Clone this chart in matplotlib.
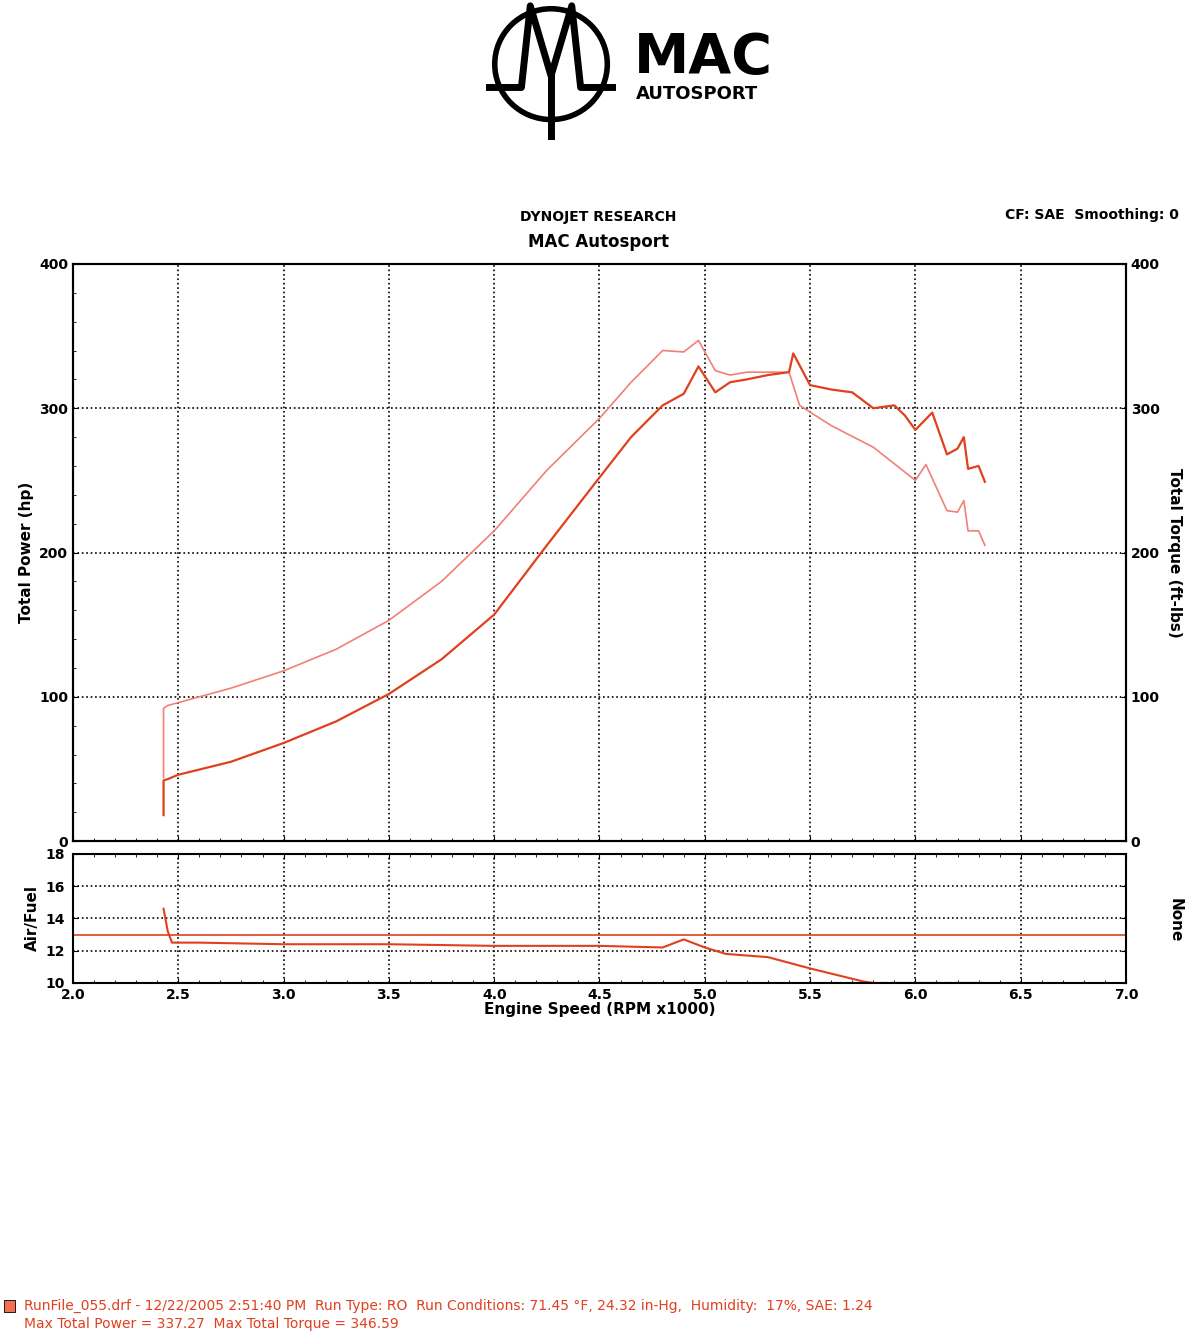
import matplotlib
matplotlib.use("Agg")
import matplotlib.pyplot as plt
from matplotlib.ticker import MultipleLocator
from matplotlib.patches import Circle, Rectangle

rpm_p = [2.43, 2.43, 2.45, 2.5, 2.75, 3.0, 3.25, 3.5, 3.75, 4.0, 4.25, 4.5, 4.65, 4.8, 4.9, 4.97, 5.05, 5.12, 5.2, 5.3, 5.4, 5.42, 5.5, 5.6, 5.7, 5.8, 5.9, 5.95, 6.0, 6.08, 6.15, 6.2, 6.23, 6.25, 6.3, 6.33]
power = [18, 42, 43, 46, 55, 68, 83, 102, 126, 157, 205, 252, 280, 302, 310, 329, 311, 318, 320, 323, 325, 338, 316, 313, 311, 300, 302, 295, 285, 297, 268, 272, 280, 258, 260, 249]
rpm_t = [2.43, 2.43, 2.45, 2.5, 2.75, 3.0, 3.25, 3.5, 3.75, 4.0, 4.25, 4.5, 4.65, 4.8, 4.9, 4.97, 5.05, 5.12, 5.2, 5.3, 5.4, 5.45, 5.6, 5.8, 6.0, 6.05, 6.15, 6.2, 6.23, 6.25, 6.3, 6.33]
torque = [44, 92, 94, 96, 106, 118, 133, 153, 180, 215, 257, 293, 318, 340, 339, 347, 326, 323, 325, 325, 325, 302, 288, 273, 250, 261, 229, 228, 236, 215, 215, 205]
rpm_af = [2.43, 2.45, 2.47, 2.6, 3.0, 3.5, 4.0, 4.5, 4.8, 4.9, 5.0, 5.1, 5.3, 5.5, 5.75, 5.8, 6.33]
afr = [14.6, 13.2, 12.5, 12.5, 12.4, 12.4, 12.3, 12.3, 12.2, 12.7, 12.2, 11.8, 11.6, 10.9, 10.1, 10.0, 10.0]

RED = "#e0401e"
LRED = "#f08078"
fig = plt.figure(figsize=(11.85, 13.33), dpi=100)
ax = fig.add_axes([0.0616, 0.369, 0.8886, 0.433])
ax.plot(rpm_t, torque, color=LRED, lw=1.2)
ax.plot(rpm_p, power, color=RED, lw=1.6)
ax.set_xlim(2, 7); ax.set_ylim(0, 400)
ax.xaxis.set_major_locator(MultipleLocator(0.5)); ax.xaxis.set_minor_locator(MultipleLocator(0.1))
ax.yaxis.set_major_locator(MultipleLocator(100)); ax.yaxis.set_minor_locator(MultipleLocator(20))
ax.grid(True, which="major", ls=":", color="k", lw=1.2)
ax.tick_params(labelbottom=False, direction="in", which="both", right=True)
for l in ax.get_yticklabels(): l.set_fontweight("bold")
ax2 = ax.twinx(); ax2.set_ylim(0, 400); ax2.yaxis.set_major_locator(MultipleLocator(100))
ax2.tick_params(direction="in")
for l in ax2.get_yticklabels(): l.set_fontweight("bold")
ax.set_ylabel("Total Power (hp)", fontweight="bold", fontsize=11)
ax2.set_ylabel("Total Torque (ft-lbs)", fontweight="bold", fontsize=11, rotation=270, labelpad=16)
for a in (ax, ax2):
    for s in a.spines.values(): s.set_linewidth(1.5)

bx = fig.add_axes([0.0616, 0.2626, 0.8886, 0.0968])
bx.plot(rpm_af, afr, color=RED, lw=1.5, clip_on=False)
bx.axhline(13, color=RED, lw=1.2)
bx.set_xlim(2, 7); bx.set_ylim(10, 18)
bx.xaxis.set_major_locator(MultipleLocator(0.5)); bx.xaxis.set_minor_locator(MultipleLocator(0.1))
bx.yaxis.set_major_locator(MultipleLocator(2))
bx.grid(True, which="major", ls=":", color="k", lw=1.2)
bx.tick_params(direction="in", which="both", top=True, right=True)
bx.tick_params(axis="y", pad=6)
for l in bx.get_xticklabels() + bx.get_yticklabels(): l.set_fontweight("bold")
bx.set_ylabel("Air/Fuel", fontweight="bold", fontsize=11)
bx.set_xlabel("Engine Speed (RPM x1000)", fontweight="bold", fontsize=11, labelpad=0)
for s in bx.spines.values(): s.set_linewidth(1.5)
fig.text(0.985, 0.31, "None", rotation=270, fontweight="bold", fontsize=11, va="center")

fig.text(0.505, 0.834, "DYNOJET RESEARCH", ha="center", fontweight="bold", fontsize=10)
fig.text(0.505, 0.815, "MAC Autosport", ha="center", fontweight="bold", fontsize=12)
fig.text(0.995, 0.836, "CF: SAE  Smoothing: 0", ha="right", fontweight="bold", fontsize=10)

# logo
lg = fig.add_axes([0.41, 0.895, 0.11, 0.105]); lg.set_xlim(-1.1, 1.1); lg.set_ylim(-1.3, 1.1); lg.axis("off")
lg.add_patch(Circle((0, 0), 0.95, fill=False, lw=4, color="k"))
lg.plot([-1.1, -0.5, -0.35, 0, 0.35, 0.5, 1.1], [-0.4, -0.4, 1.0, -0.2, 1.0, -0.4, -0.4], color="k", lw=5)
lg.plot([0, 0], [-0.2, -1.25], color="k", lw=5)
fig.text(0.535, 0.945, "MAC", fontsize=40, fontweight="bold", family="DejaVu Sans")
fig.text(0.537, 0.926, "AUTOSPORT", fontsize=13, fontweight="bold")

fig.patches.append(Rectangle((0.003, 0.016), 0.01, 0.009, transform=fig.transFigure, facecolor="#f07050", edgecolor="k", lw=0.6))
fig.text(0.02, 0.017, "RunFile_055.drf - 12/22/2005 2:51:40 PM  Run Type: RO  Run Conditions: 71.45 °F, 24.32 in-Hg,  Humidity:  17%, SAE: 1.24", color=RED, fontsize=10)
fig.text(0.02, 0.004, "Max Total Power = 337.27  Max Total Torque = 346.59", color=RED, fontsize=10)
fig.savefig("out.png", dpi=100, facecolor="white")
